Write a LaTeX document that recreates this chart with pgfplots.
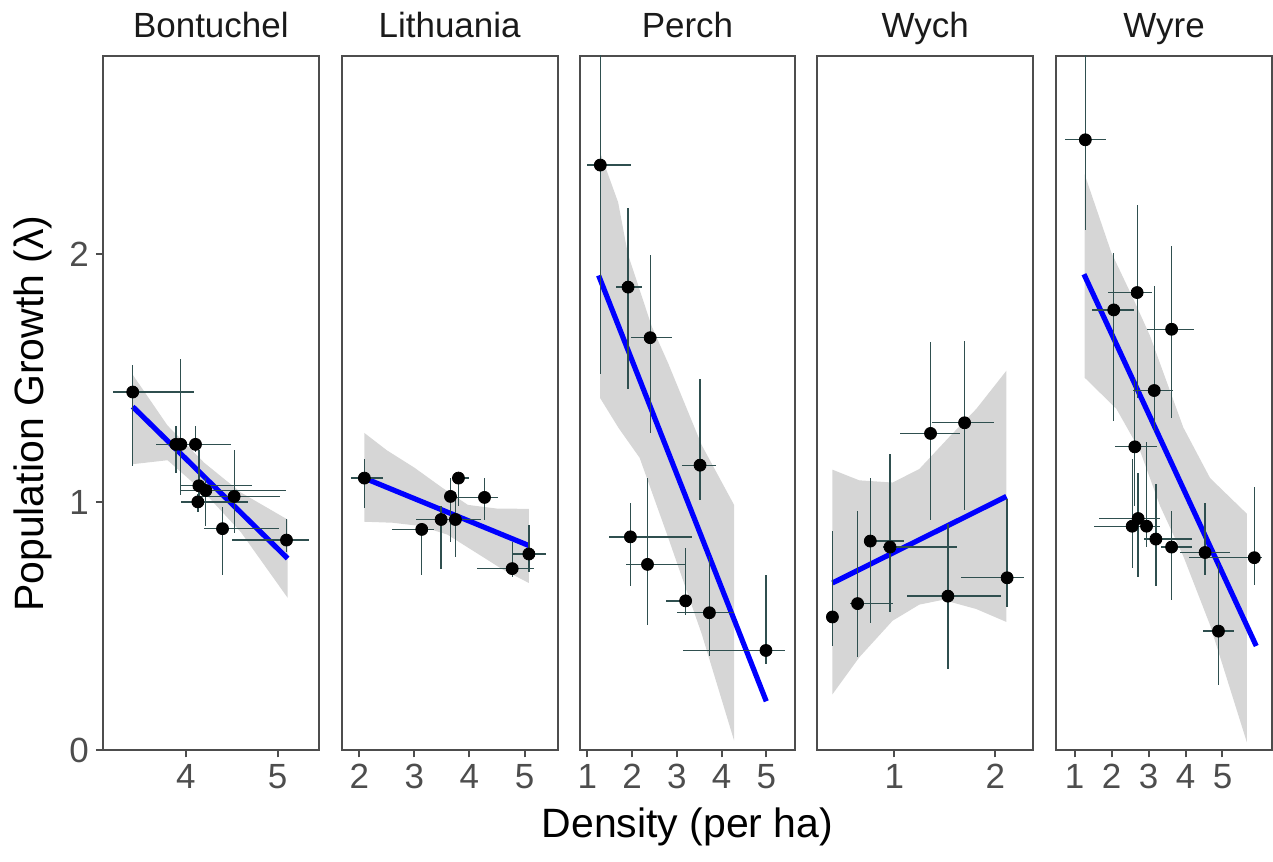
\documentclass[border=0pt]{standalone}
\usepackage{fontspec}
\setmainfont{Liberation Sans}
\usepackage{pgfplots}
\usepackage{pgfplotstable}
\pgfplotsset{compat=1.18}

\definecolor{framegray}{HTML}{4D4D4D}
\definecolor{ticktext}{HTML}{4D4D4D}
\definecolor{striptext}{HTML}{1A1A1A}
\definecolor{errcol}{HTML}{2F4F4F}
\definecolor{bandgray}{HTML}{D6D6D6}
\definecolor{fitblue}{HTML}{0000FF}

% columns: x y xminus xplus yminus yplus
\pgfplotstableread{
x y xm xp ym yp
3.420 1.445 0.220 0.670 0.297 0.108
3.891 1.234 0.030 0.030 0.114 0.072
3.945 1.234 0.030 0.030 0.206 0.343
4.105 1.234 0.436 0.386 0.030 0.072
4.142 1.067 0.197 0.582 0.071 0.143
4.218 1.048 0.273 0.873 0.144 0.050
4.131 1.002 0.186 0.545 0.041 0.033
4.527 1.024 0.374 0.498 0.148 0.186
4.400 0.894 0.200 0.618 0.185 0.089
5.098 0.848 0.600 0.247 0.047 0.087
}\bontuchel

\pgfplotstableread{
x y xm xp ym yp
2.091 1.098 0.243 0.333 0.120 0.078
3.133 0.891 0.545 0.231 0.182 0.022
3.485 0.931 0.455 0.727 0.200 0.056
3.655 1.024 0.050 0.050 0.182 0.074
3.745 0.931 0.100 0.100 0.152 0.112
3.800 1.098 0.103 0.200 0.111 0.020
4.273 1.020 0.600 0.240 0.089 0.078
4.776 0.733 0.643 0.388 0.034 0.106
5.079 0.792 0.303 0.315 0.074 0.117
}\lithuania

\pgfplotstableread{
x y xm xp ym yp
1.292 2.360 0.300 0.695 0.844 0.700
1.912 1.868 0.276 0.307 0.412 0.319
2.406 1.664 0.419 0.486 0.386 0.334
3.520 1.150 0.412 0.358 0.139 0.347
1.964 0.861 0.478 1.369 0.199 0.135
2.346 0.750 0.471 0.852 0.244 0.348
3.198 0.603 0.448 0.050 0.057 0.212
3.729 0.555 0.718 0.553 0.176 0.228
4.993 0.403 1.862 0.418 0.055 0.306
}\perch

\pgfplotstableread{
x y xm xp ym yp
0.387 0.538 0.030 0.030 0.117 0.347
0.636 0.592 0.076 0.354 0.217 0.373
0.762 0.844 0.043 0.337 0.330 0.254
0.957 0.820 0.073 0.666 0.260 0.377
1.358 1.278 0.298 0.288 0.350 0.368
1.695 1.321 0.324 0.292 0.353 0.328
1.530 0.622 0.407 0.523 0.294 0.291
2.116 0.696 0.454 0.169 0.117 0.319
}\wych

\pgfplotstableread{
x y xm xp ym yp
1.290 2.462 0.543 0.570 0.362 0.600
2.692 1.846 0.787 0.408 0.427 0.353
2.059 1.776 0.579 0.543 0.446 0.231
3.624 1.698 0.660 0.616 0.358 0.334
3.154 1.451 0.570 0.516 0.163 0.423
2.629 1.224 0.543 0.606 0.237 0.273
2.719 0.935 1.058 0.589 0.235 0.182
2.557 0.904 1.032 0.400 0.167 0.272
2.946 0.904 0.290 0.362 0.084 0.339
3.199 0.852 0.326 0.968 0.190 0.224
3.624 0.820 0.300 0.550 0.213 0.145
4.529 0.798 0.678 0.661 0.089 0.198
5.860 0.777 1.756 0.208 0.109 0.284
4.891 0.481 0.407 0.408 0.218 0.274
}\wyre

\pgfplotsset{
  panel/.style={
    scale only axis, width=108pt, height=347.5pt,
    anchor=south west,
    ymin=0, ymax=2.8, ytick=\empty,
    axis line style={framegray, line width=1pt},
    tick style={framegray, line width=1pt},
    tick align=outside, major tick length=3.5pt,
    xtick pos=bottom, ytick pos=left,
    ticklabel style={font=\fontsize{17.5}{20}\selectfont, text=ticktext},
    /pgf/number format/assume math mode=true,
    title style={font=\fontsize{17.5}{20}\selectfont, text=striptext,
      at={(0.5,1)}, anchor=base, yshift=3pt},
  },
  pts/.style={only marks, mark=*, mark size=3pt, mark options={fill=black, draw=black}},
  ebars/.style={draw=none, mark=none, forget plot,
    error bars/.cd, x dir=both, x explicit, y dir=both, y explicit,
    error mark=none, error bar style={draw=errcol, line width=0.65pt}},
  fit/.style={fitblue, line width=2.6pt, mark=none},
  band/.style={fill=bandgray, draw=none, forget plot},
}

\newcommand{\points}[1]{%
  \addplot[pts] table[x=x, y=y] {#1};
  \addplot[ebars] table[x=x, y=y, x error minus=xm, x error plus=xp,
    y error minus=ym, y error plus=yp] {#1};
}

\begin{document}
\begin{tikzpicture}

\begin{axis}[panel, at={(0pt,0pt)}, xmin=3.095, xmax=5.45, xtick={4,5},
  ytick={0,1,2}, title=Bontuchel]
\addplot[band] coordinates {(3.418,1.516) (3.8,1.31) (4.2,1.16) (4.6,1.04) (5.109,0.931)
  (5.109,0.616) (4.6,0.88) (4.2,1.04) (3.8,1.17) (3.418,1.154)} -- cycle;
\addplot[fit] coordinates {(3.42,1.386) (5.11,0.774)};
\points{\bontuchel}
\end{axis}

\begin{axis}[panel, at={(119.5pt,0pt)}, xmin=1.68, xmax=5.60, xtick={2,3,4,5},
  title=Lithuania]
\addplot[band] coordinates {(2.091,1.28) (2.5,1.21) (3.0,1.14) (3.5,1.06) (3.97,0.99)
  (4.5,0.975) (5.079,0.974) (5.079,0.675) (4.6,0.73) (4.1,0.80) (3.6,0.87) (3.1,0.905)
  (2.6,0.918) (2.091,0.922)} -- cycle;
\addplot[fit] coordinates {(2.091,1.098) (5.079,0.826)};
\points{\lithuania}
\end{axis}

\begin{axis}[panel, at={(238.5pt,0pt)}, xmin=0.828, xmax=5.65, xtick={1,2,3,4,5},
  title=Perch]
\addplot[band] coordinates {(1.29,2.41) (1.69,2.21) (1.91,2.0) (2.44,1.71) (2.81,1.56)
  (3.56,1.23) (4.28,0.99) (4.28,0.04) (3.56,0.468) (2.81,0.857) (2.17,1.18) (1.7,1.30)
  (1.29,1.42)} -- cycle;
\addplot[fit] coordinates {(1.254,1.915) (5.0,0.198)};
\points{\perch}
\end{axis}

\begin{axis}[panel, at={(357.5pt,0pt)}, xmin=0.238, xmax=2.374, xtick={1,2},
  title=Wych]
\addplot[band] coordinates {(0.387,1.132) (0.652,1.089) (0.983,1.080) (1.248,1.135)
  (1.546,1.265) (1.811,1.377) (2.109,1.531) (2.109,0.518) (1.811,0.570) (1.48,0.607)
  (1.248,0.588) (0.983,0.523) (0.652,0.375) (0.387,0.226)} -- cycle;
\addplot[fit] coordinates {(0.387,0.675) (2.109,1.024)};
\points{\wych}
\end{axis}

\begin{axis}[panel, at={(477pt,0pt)}, xmin=0.502, xmax=6.34, xtick={1,2,3,4,5},
  title=Wyre]
\addplot[band] coordinates {(1.271,2.323) (1.995,2.007) (2.584,1.822) (3.036,1.673)
  (3.941,1.302) (4.665,1.098) (5.661,0.954) (5.661,0.032) (4.665,0.505) (3.941,0.783)
  (3.308,0.987) (2.765,1.21) (2.131,1.377) (1.271,1.503)} -- cycle;
\addplot[fit] coordinates {(1.253,1.92) (5.914,0.421)};
\points{\wyre}
\end{axis}

\node[anchor=base, font=\fontsize{20.5}{24}\selectfont] at (292.5pt,-43.5pt) {Density (per ha)};
\node[anchor=base, rotate=90, font=\fontsize{20.5}{24}\selectfont] at (-29.5pt,168.5pt) {Population Growth (λ)};

\pgfresetboundingbox
\path (-51.5pt,-55.5pt) rectangle (585.5pt,375.5pt);
\end{tikzpicture}
\end{document}
